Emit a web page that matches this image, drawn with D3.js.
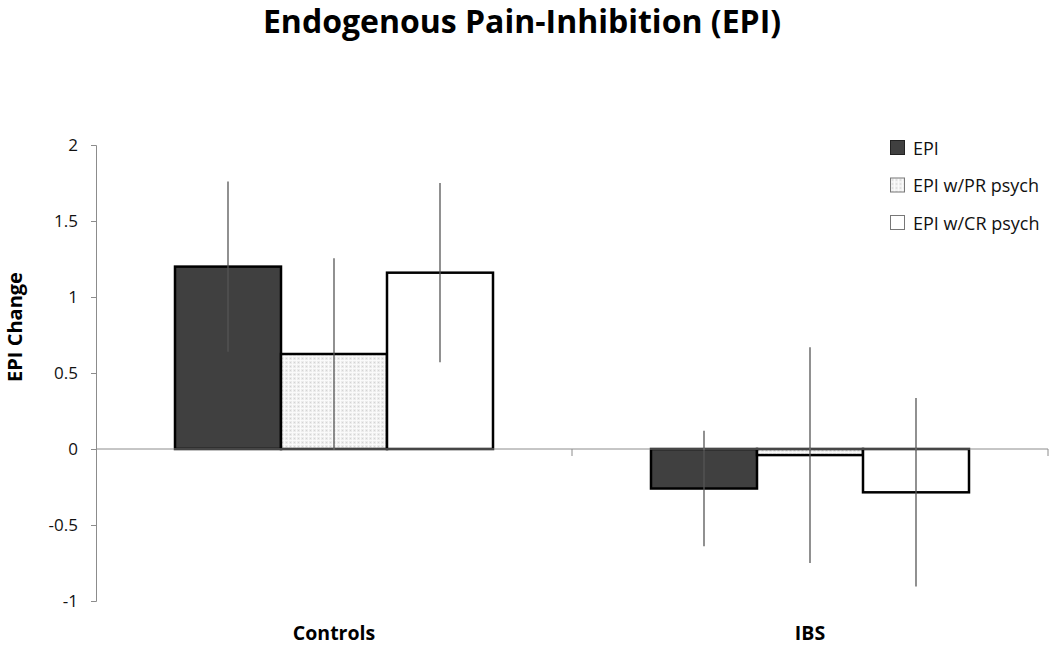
<!DOCTYPE html>
<html><head><meta charset="utf-8">
<script src="https://cdn.jsdelivr.net/npm/d3@7"></script>
<style>body{margin:0;background:#fff}svg{display:block}text{font-family:"Open Sans","Liberation Sans",sans-serif}</style>
</head><body><svg id="c" width="1050" height="647"></svg>
<script>
const categories = ["Controls", "IBS"];
const seriesNames = ["EPI", "EPI w/PR psych", "EPI w/CR psych"];
const epi   = [1.20, -0.26];
const epiPR = [0.625, -0.04];
const epiCR = [1.16, -0.285];
const errEPI = [0.56, 0.38];
const errPR  = [0.63, 0.71];
const errCR  = [0.59, 0.62];
const yTicks = [2, 1.5, 1, 0.5, 0, -0.5, -1];

const values = [epi, epiPR, epiCR];
const errs = [errEPI, errPR, errCR];
const svg = d3.select("#c");
const defs = svg.append("defs");
const pat = defs.append("pattern").attr("id","dots").attr("patternUnits","userSpaceOnUse").attr("width",4).attr("height",4);
pat.append("rect").attr("width",4).attr("height",4).attr("fill","#ececec");
pat.append("rect").attr("x",0).attr("y",0).attr("width",4).attr("height",1).attr("fill","#fafafa");
pat.append("rect").attr("x",0).attr("y",0).attr("width",1).attr("height",4).attr("fill","#fafafa");
pat.append("rect").attr("x",2).attr("y",2).attr("width",1).attr("height",1).attr("fill","#d4d4d4");

const fills = ["#404040", "url(#dots)", "#ffffff"];
const left = 96, right = 1048;
const y = d3.scaleLinear().domain([-1, 2]).range([601, 145]);
const x0 = d3.scaleBand().domain(categories).range([left, right]).paddingInner(0).paddingOuter(0);
const x1 = d3.scaleBand().domain(d3.range(3)).range([79, x0.bandwidth() - 79]).padding(0);

svg.append("text").attr("x", 522).attr("y", 33).attr("text-anchor","middle")
  .attr("font-size", 32).attr("font-weight","bold").text("Endogenous Pain-Inhibition (EPI)");

// y axis
const yAxis = d3.axisLeft(y).tickValues(yTicks).tickFormat(d => String(d)).tickSizeOuter(0).tickSize(5).tickPadding(13);
const ga = svg.append("g").attr("transform", `translate(${left},0)`).call(yAxis);
ga.select(".domain").attr("stroke","#8c8c8c");
ga.selectAll(".tick line").attr("stroke","#8c8c8c");
ga.selectAll(".tick text").attr("font-size", 17).attr("fill","#111").attr("font-family","Open Sans, sans-serif");

svg.append("text").attr("transform", `translate(22,327) rotate(-90)`).attr("text-anchor","middle")
  .attr("font-size", 20).attr("font-weight","bold").text("EPI Change");

// bars
const groups = svg.append("g").selectAll("g").data(categories).join("g")
  .attr("transform", d => `translate(${x0(d)},0)`);
groups.each(function(cat, ci) {
  const g = d3.select(this);
  for (let s = 0; s < 3; s++) {
    const v = values[s][ci];
    g.append("rect").attr("x", x1(s)).attr("width", x1.bandwidth())
      .attr("y", y(Math.max(0, v))).attr("height", Math.abs(y(v) - y(0)))
      .attr("fill", fills[s]).attr("stroke", "#000").attr("stroke-width", 2.5);
  }
});

// zero axis
svg.append("line").attr("x1", left).attr("x2", right).attr("y1", y(0)).attr("y2", y(0)).attr("stroke","#8c8c8c");
categories.concat([null]).forEach((c, i) => {
  const xx = c ? x0(c) : right;
  if (i === 0) return;
  svg.append("line").attr("x1", xx).attr("x2", xx).attr("y1", y(0)).attr("y2", y(0)+7).attr("stroke","#8c8c8c");
});

// error bars
groups.each(function(cat, ci) {
  const g = d3.select(this);
  for (let s = 0; s < 3; s++) {
    const v = values[s][ci], e = errs[s][ci];
    const cx = x1(s) + x1.bandwidth()/2;
    g.append("line").attr("x1", cx).attr("x2", cx).attr("y1", y(v + e)).attr("y2", y(v - e))
      .attr("stroke", "#555").attr("stroke-width", 1.3);
  }
});

// category labels
svg.append("g").selectAll("text").data(categories).join("text")
  .attr("x", d => x0(d) + x0.bandwidth()/2).attr("y", 640).attr("text-anchor","middle")
  .attr("font-size", 19.5).attr("font-weight","bold").text(d => d);

// legend
const lg = svg.append("g").selectAll("g").data(seriesNames).join("g")
  .attr("transform", (d, i) => `translate(890,${140 + i*37.5})`);
lg.append("rect").attr("x", 0.5).attr("y", 0.5).attr("width", 14).attr("height", 14).attr("fill", (d,i) => fills[i])
  .attr("stroke", (d,i) => i === 0 ? "#222" : "#777").attr("stroke-width", 1);
lg.append("text").attr("x", 23).attr("y", 14.5).attr("font-size", 18).attr("fill","#111").text(d => d);
</script></body></html>
